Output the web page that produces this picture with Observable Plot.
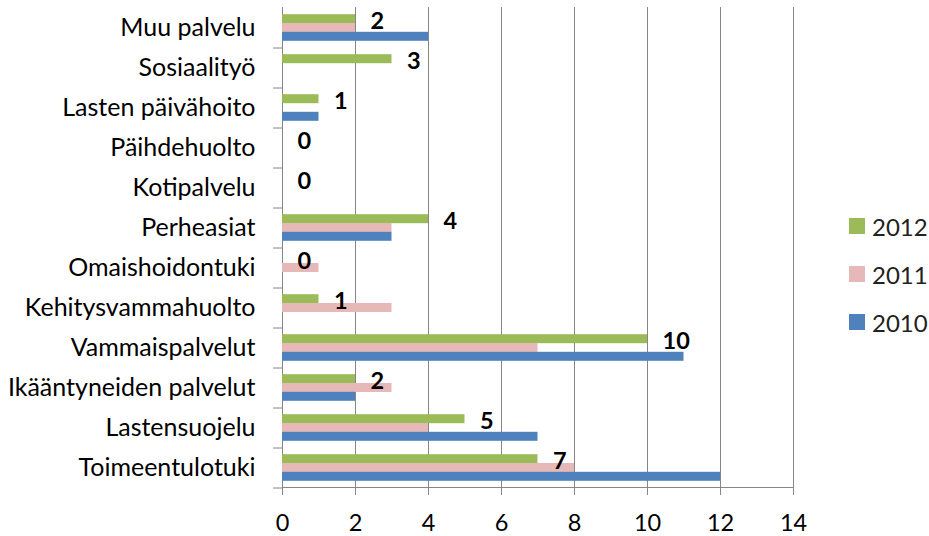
<!DOCTYPE html>
<html>
<head>
<meta charset="utf-8">
<script src="https://cdn.jsdelivr.net/npm/d3@7"></script>
<script src="https://cdn.jsdelivr.net/npm/@observablehq/plot@0.6"></script>
<style>
  html, body { margin: 0; padding: 0; background: #fff; }
  #wrap { position: relative; width: 929px; height: 536px; font-family: Lato, sans-serif; }
  #legend { position: absolute; left: 849px; top: 202px; }
  .item { display: flex; align-items: center; height: 48px; font-size: 24px; color: #222; }
  .sw { width: 16px; height: 16px; margin-right: 7px; }
</style>
</head>
<body>
<div id="wrap"><div id="chart"></div><div id="legend"></div></div>
<script>
const categories = ["Muu palvelu","Sosiaalityö","Lasten päivähoito","Päihdehuolto","Kotipalvelu","Perheasiat","Omaishoidontuki","Kehitysvammahuolto","Vammaispalvelut","Ikääntyneiden palvelut","Lastensuojelu","Toimeentulotuki"];
const years = ["2012","2011","2010"];
const values2012 = [2,3,1,0,0,4,0,1,10,2,5,7];
const values2011 = [2,0,0,0,0,3,1,3,7,3,4,8];
const values2010 = [4,0,1,0,0,3,0,0,11,2,7,12];
const xTicks = [0,2,4,6,8,10,12,14];
const colors = ["#9BBB59","#E6B9B8","#4F81BD"];

const W = 929, H = 536, mTop = 7, mBottom = 49, mLeft = 282, mRight = 136;
const step = (H - mTop - mBottom) / categories.length;
const barH = 8.8;
const series = [values2012, values2011, values2010];
const rows = years.map((y, k) => categories.map((c, i) => ({category: c, year: y, value: series[k][i]})));
const gray = "#868686";

const chart = Plot.plot({
  width: W, height: H,
  marginTop: mTop, marginBottom: mBottom, marginLeft: mLeft, marginRight: mRight,
  style: {fontFamily: "Lato, sans-serif", background: "#fff"},
  x: {domain: [0, 14]},
  y: {domain: categories, paddingInner: 1 - barH / step, paddingOuter: (1 - barH / step) / 2},
  marks: [
    Plot.gridX(xTicks, {stroke: gray, strokeOpacity: 1}),
    Plot.frame({anchor: "bottom", stroke: gray}),
    Plot.ruleY(categories, {y: d => d, x1: 0, x2: 0, insetLeft: -9, dy: step / 2, stroke: gray}),
    ...rows.map((r, k) => Plot.barX(r, {x: "value", y: "category", fill: colors[k], dy: (k - 1) * barH})),
    Plot.text(rows[0], {x: "value", y: "category", text: d => String(d.value), dx: 15, dy: -7, textAnchor: "start", fontWeight: "bold", fontSize: 23.5, fill: "#000"}),
    Plot.axisY({tickSize: 0, tickPadding: 27, fontSize: 25, fill: "#000", label: null}),
    Plot.axisX(xTicks, {tickSize: 8, tickPadding: 19, fontSize: 23.5, stroke: gray, fill: "#000", label: null})
  ]
});
document.getElementById("chart").appendChild(chart);

const legend = document.getElementById("legend");
years.forEach((y, k) => {
  const it = document.createElement("div");
  it.className = "item";
  it.innerHTML = `<div class="sw" style="background:${colors[k]}"></div><span>${y}</span>`;
  legend.appendChild(it);
});
</script>
</body>
</html>
